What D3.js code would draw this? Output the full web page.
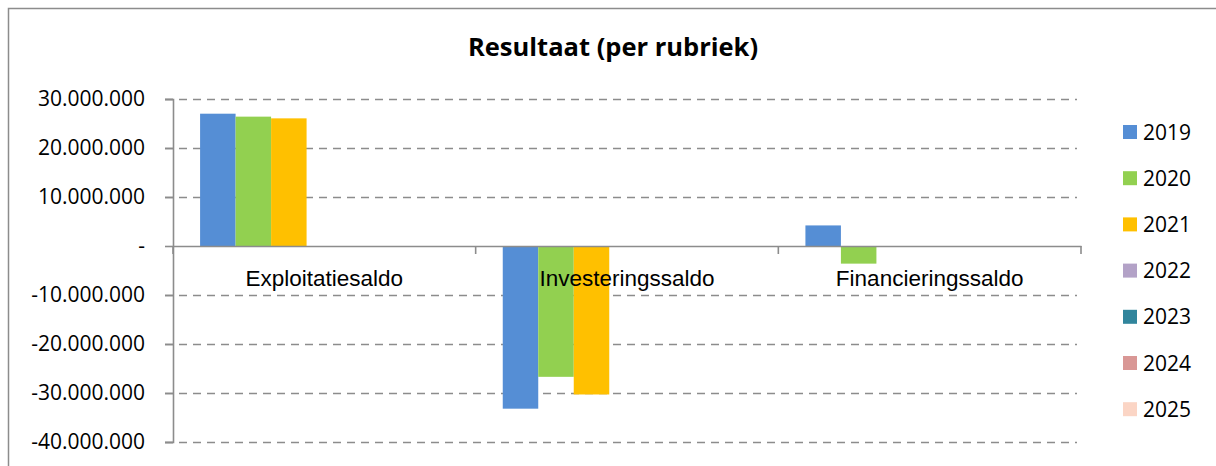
<!DOCTYPE html>
<html>
<head>
<meta charset="utf-8">
<script src="https://cdn.jsdelivr.net/npm/d3@7"></script>
<style>
  html, body { margin: 0; padding: 0; background: #fff; }
  svg { display: block; font-family: "Open Sans", "Noto Sans", sans-serif; }
</style>
</head>
<body>
<svg id="chart" width="1216" height="466"></svg>
<script>
// ---- data ----
const categories = ["Exploitatiesaldo", "Investeringssaldo", "Financieringssaldo"];
const years = ["2019", "2020", "2021", "2022", "2023", "2024", "2025"];
const values2019 = [27000000, -33200000, 4200000];
const values2020 = [26400000, -26700000, -3600000];
const values2021 = [26050000, -30300000, null];
const values2022 = [null, null, null];
const values2023 = [null, null, null];
const values2024 = [null, null, null];
const values2025 = [null, null, null];
const yTicks = [-40000000, -30000000, -20000000, -10000000, 0, 10000000, 20000000, 30000000];
const colors = ["#558ED5", "#92D050", "#FFC000", "#B3A2C7", "#31859C", "#D99795", "#FBD5C5"];
const title = "Resultaat (per rubriek)";

const seriesValues = [values2019, values2020, values2021, values2022, values2023, values2024, values2025];
const series = years.map((y, i) => ({ year: y, values: seriesValues[i], color: colors[i] }));

// ---- layout ----
const svg = d3.select("#chart");
const plot = { left: 173, right: 1081, top: 99, bottom: 442 };

// outer border
svg.append("rect")
  .attr("x", 8.5).attr("y", 8.5)
  .attr("width", 1216).attr("height", 470)
  .attr("fill", "none").attr("stroke", "#8c8c8c").attr("stroke-width", 1.5);

// title
svg.append("text")
  .attr("x", 613).attr("y", 56)
  .attr("text-anchor", "middle")
  .attr("font-size", 25.5).attr("font-weight", "bold")
  .attr("fill", "#000")
  .text(title);

// scales
const y = d3.scaleLinear().domain([-40000000, 30000000]).range([plot.bottom, plot.top]);
const x0 = d3.scaleBand().domain(categories).range([plot.left, plot.right]).padding(0);
const x1 = d3.scaleBand().domain(years).range([0, x0.bandwidth()]).paddingInner(0).paddingOuter(0.763);

const nl = d3.formatLocale({ decimal: ",", thousands: ".", grouping: [3], currency: ["", ""], minus: "-" });
const fmt = v => v === 0 ? "-" : nl.format(",")(v);

// gridlines (dashed)
svg.append("g").selectAll("line")
  .data(yTicks.filter(t => t !== 0))
  .join("line")
  .attr("x1", plot.left - 8).attr("x2", 1077)
  .attr("y1", d => Math.round(y(d)) + 0.5).attr("y2", d => Math.round(y(d)) + 0.5)
  .attr("stroke", "#8c8c8c").attr("stroke-width", 1.6)
  .attr("stroke-dasharray", "8,6");

// y axis
const yAxis = d3.axisLeft(y).tickValues(yTicks).tickFormat(fmt).tickSize(8).tickPadding(20);
const gy = svg.append("g").attr("transform", `translate(${plot.left},0)`).call(yAxis);
gy.select(".domain").attr("stroke", "#8c8c8c").attr("stroke-width", 1.6);
gy.selectAll(".tick line").attr("stroke", "#8c8c8c").attr("stroke-width", 1.6);
gy.selectAll(".tick text").attr("font-size", 21).attr("fill", "#000")
  .attr("font-family", "'Open Sans', sans-serif");

// bars
const groups = svg.append("g").selectAll("g")
  .data(categories)
  .join("g")
  .attr("transform", d => `translate(${x0(d)},0)`);

groups.selectAll("rect")
  .data((c, ci) => series.filter(s => s.values[ci] != null).map(s => ({ year: s.year, v: s.values[ci], color: s.color })))
  .join("rect")
  .attr("x", d => x1(d.year))
  .attr("width", x1.bandwidth())
  .attr("y", d => y(Math.max(0, d.v)))
  .attr("height", d => Math.abs(y(d.v) - y(0)))
  .attr("fill", d => d.color);

// category axis at zero
const xAxis = d3.axisBottom(x0).tickSize(0).tickFormat("");
const gx = svg.append("g").attr("transform", `translate(0,${y(0)})`).call(xAxis);
gx.select(".domain").attr("stroke", "#8c8c8c").attr("stroke-width", 1.6);
// category boundary ticks
const bounds = [plot.left].concat(categories.map(c => x0(c) + x0.bandwidth()));
gx.selectAll(".bound").data(bounds).join("line")
  .attr("class", "bound")
  .attr("x1", d => d).attr("x2", d => d)
  .attr("y1", 0).attr("y2", 8)
  .attr("stroke", "#8c8c8c").attr("stroke-width", 1.6);
// category labels
gx.selectAll(".clabel").data(categories).join("text")
  .attr("class", "clabel")
  .attr("x", d => x0(d) + x0.bandwidth() / 2)
  .attr("y", 40)
  .attr("text-anchor", "middle")
  .attr("font-size", 22.5).attr("fill", "#000")
  .text(d => d);

// legend
const legend = svg.append("g").attr("transform", "translate(1123,132)");
const li = legend.selectAll("g").data(series).join("g")
  .attr("transform", (d, i) => `translate(0,${i * 46.2})`);
li.append("rect").attr("x", 0).attr("y", -7).attr("width", 14).attr("height", 14).attr("fill", d => d.color);
li.append("text").attr("x", 20).attr("y", 7.5).attr("font-size", 21).attr("fill", "#000").text(d => d.year);
</script>
</body>
</html>
